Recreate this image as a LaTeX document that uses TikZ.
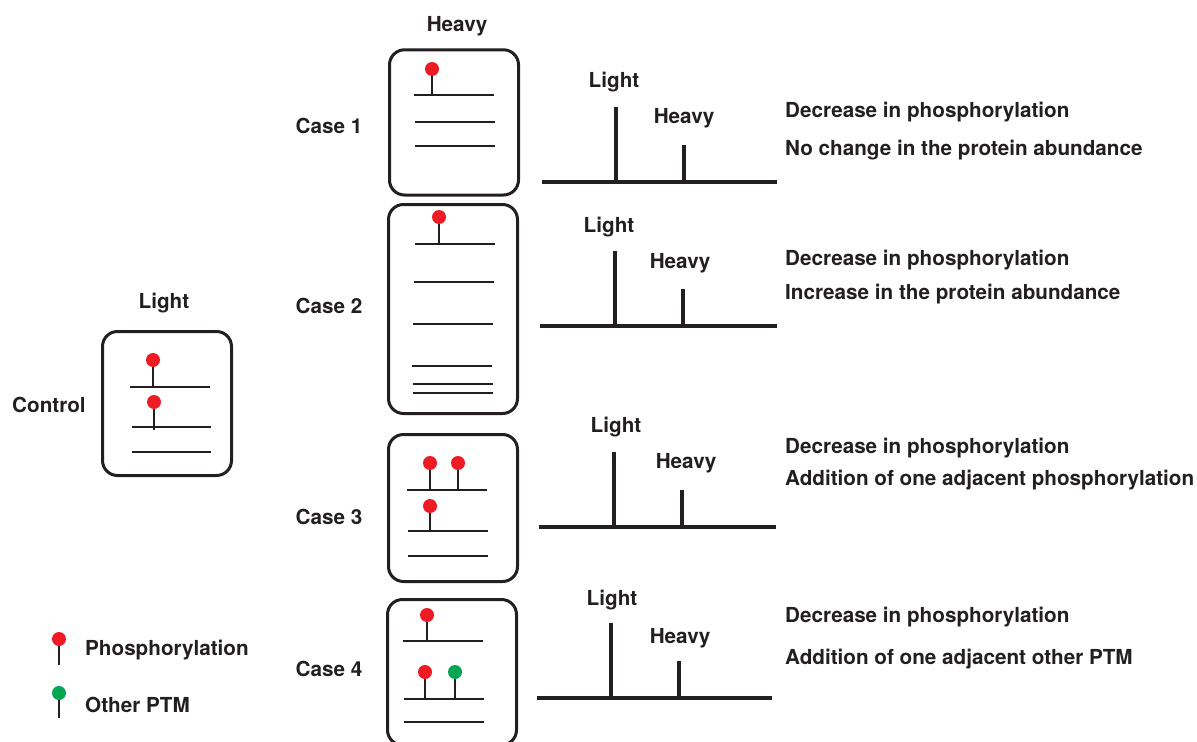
\documentclass[tikz,border=0pt]{standalone}
\usepackage{fontspec}
\setmainfont{TeX Gyre Heros}
\definecolor{ink}{HTML}{231F20}
\definecolor{phos}{HTML}{ED1C24}
\definecolor{ptm}{HTML}{00A651}
\tikzset{
  lbl/.style={text=ink, font=\bfseries\fontsize{20.75}{24}\selectfont, inner sep=0pt, anchor=base},
  note/.style={lbl, anchor=base west},
  box/.style={draw=ink, line width=3bp, rounded corners=15bp},
  seq/.style={draw=ink, line width=1.6bp},
  axis/.style={draw=ink, line width=4bp},
  pin/.style={circle, fill=phos, inner sep=0pt, minimum size=14bp},
  otherpin/.style={pin, fill=ptm},
  stem/.style={draw=ink, line width=1.6bp},
}
\begin{document}
\begin{tikzpicture}[x=1bp,y=-1bp]
\useasboundingbox (0,0) rectangle (1197,742);

\node[lbl] (heavytop) at (457,32) {Heavy};
\node[lbl] (lighttop) at (164,308) {Light};
\node[note] (control) at (12,412) {Control};
\node[lbl] (case1) at (329,133) {Case 1};
\node[lbl] (case2) at (329,313) {Case 2};
\node[lbl] (case3) at (329,524) {Case 3};
\node[lbl] (case4) at (329,676) {Case 4};

\draw[box] (102.5,331.5) rectangle (231.5,475.5);
\draw[box] (389.5,49.8) rectangle (518.5,195);
\draw[box] (388.5,204.5) rectangle (517.5,413.5);
\draw[box] (388.5,434.5) rectangle (517.5,581.5);
\draw[box] (387.5,599.5) rectangle (516.5,745);

\draw[seq] (130,387) -- (210,387);
\draw[seq] (132,427) -- (211,427);
\draw[seq] (132,452) -- (211,452);

\draw[seq] (414,95) -- (494,95);
\draw[seq] (415,122) -- (495,122);
\draw[seq] (415,146) -- (495,146);

\draw[seq] (415,244) -- (495,244);
\draw[seq] (414,282) -- (494,282);
\draw[seq] (413,324) -- (493,324);
\draw[seq] (412,366) -- (492,366);
\draw[seq] (413,384) -- (493,384);
\draw[seq] (413,393) -- (493,393);

\draw[seq] (407,490) -- (487,490);
\draw[seq] (408,531) -- (488,531);
\draw[seq] (408,556) -- (488,556);

\draw[seq] (403,641) -- (483,641);
\draw[seq] (404,699) -- (484,699);
\draw[seq] (404,722) -- (484,722);

\node[pin] (c1) at (153,360) {};
\coordinate (c1b) at (153,387);
\node[pin] (c2) at (154,402) {};
\coordinate (c2b) at (154,430);
\node[pin] (p11) at (432,69) {};
\coordinate (p11b) at (432,95);
\node[pin] (p21) at (439,217) {};
\coordinate (p21b) at (439,244);
\node[pin] (p31) at (430,463) {};
\coordinate (p31b) at (430,490);
\node[pin] (p32) at (458,463) {};
\coordinate (p32b) at (458,490);
\node[pin] (p33) at (430,506) {};
\coordinate (p33b) at (430,531);
\node[pin] (p41) at (427,615) {};
\coordinate (p41b) at (427,641);
\node[pin] (p42) at (425,672) {};
\coordinate (p42b) at (425,699);
\node[otherpin] (o42) at (455,672) {};
\coordinate (o42b) at (455,699);
\node[pin] (keyp) at (59,639) {};
\coordinate (keypb) at (59,665);
\node[otherpin] (keyo) at (59,693) {};
\coordinate (keyob) at (59,718);

\draw[stem] (c1) -- (c1b);
\draw[stem] (c2) -- (c2b);
\draw[stem] (p11) -- (p11b);
\draw[stem] (p21) -- (p21b);
\draw[stem] (p31) -- (p31b);
\draw[stem] (p32) -- (p32b);
\draw[stem] (p33) -- (p33b);
\draw[stem] (p41) -- (p41b);
\draw[stem] (p42) -- (p42b);
\draw[stem] (o42) -- (o42b);
\draw[stem] (keyp) -- (keypb);
\draw[stem] (keyo) -- (keyob);

\node[note] (keyptext) at (85,655) {Phosphorylation};
\node[note] (keyotext) at (85,712) {Other PTM};

\draw[axis] (542,182) -- (777,182);
\draw[axis] (616,107) -- (616,182);
\draw[axis] (684,145) -- (684,182);
\node[lbl] (light1) at (614,88) {Light};
\node[lbl] (heavy1) at (684,123) {Heavy};

\draw[axis] (540,326) -- (777,326);
\draw[axis] (615,251) -- (615,326);
\draw[axis] (683,289) -- (683,326);
\node[lbl] (light2) at (609,232) {Light};
\node[lbl] (heavy2) at (680,268) {Heavy};

\draw[axis] (539,527) -- (776,527);
\draw[axis] (614,452) -- (614,527);
\draw[axis] (682,490) -- (682,527);
\node[lbl] (light3) at (616,432) {Light};
\node[lbl] (heavy3) at (686,468) {Heavy};

\draw[axis] (537,698) -- (772,698);
\draw[axis] (611,623) -- (611,698);
\draw[axis] (679,661) -- (679,698);
\node[lbl] (light4) at (612,605) {Light};
\node[lbl] (heavy4) at (680,643) {Heavy};

\node[note] (dec1) at (785,118) {Decrease in phosphorylation};
\node[note] (eff1) at (785,155) {No change in the protein abundance};
\node[note] (dec2) at (785,265) {Decrease in phosphorylation};
\node[note] (eff2) at (785,299) {Increase in the protein abundance};
\node[note] (dec3) at (785,453) {Decrease in phosphorylation};
\node[note] (eff3) at (785,485) {Addition of one adjacent phosphorylation};
\node[note] (dec4) at (785,622) {Decrease in phosphorylation};
\node[note] (eff4) at (785,664) {Addition of one adjacent other PTM};

\end{tikzpicture}
\end{document}
